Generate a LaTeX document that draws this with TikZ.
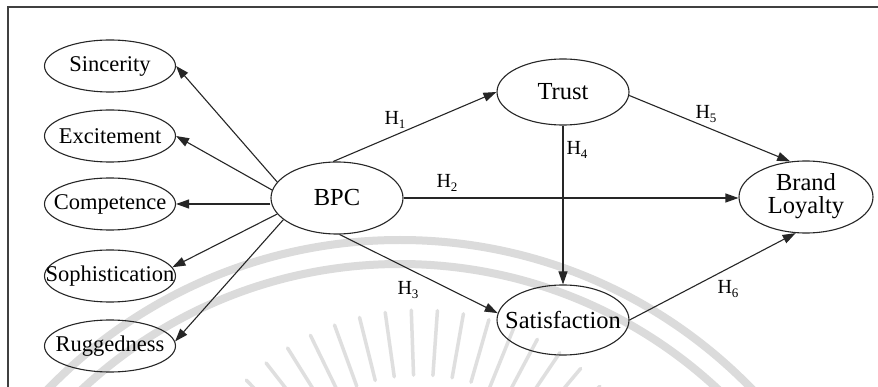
\documentclass[tikz,border=0pt]{standalone}
\usepackage{fontspec}
\setmainfont{Liberation Serif}
\usetikzlibrary{arrows.meta,shapes.geometric}
\newcommand\hyp[1]{H\raisebox{-0.35ex}{\fontsize{13}{13}\selectfont #1}}
% text is centred in a zero-width box so the ellipse keeps its fixed size
\newcommand\lbl[1]{\makebox[0pt]{#1}}
\tikzset{
  construct/.style={draw=black!85, line width=1.1pt, ellipse, inner sep=0pt,
    font=\fontsize{22.5}{25}\selectfont},
  dim/.style={construct, minimum width=131pt, minimum height=52pt},
  core/.style={construct, minimum width=132pt, minimum height=70pt,
    font=\fontsize{24.5}{27}\selectfont},
  path/.style={draw=black!85, line width=1.1pt, -{Triangle[length=13pt,width=9pt]}},
  hlabel/.style={font=\fontsize{20}{22}\selectfont, inner sep=0pt},
  mark band/.style={draw=gray!28, line width=8pt},
  mark ray/.style={draw=gray!25, line width=3.5pt, line cap=round}
}
\begin{document}
\begin{tikzpicture}[x=1pt, y=-1pt]
\useasboundingbox (0,0) rectangle (878,387);
\fill[white] (0,0) rectangle (878,387);

% faint seal in the background
\begin{scope}
  \clip (8,7) rectangle (878,387);
  \draw[mark band] (400,730) circle[radius=490];
  \draw[mark band] (400,730) circle[radius=466];
  \foreach \a in {44,50,...,136}
    \draw[mark ray] (420,560) ++(-\a:185) -- ++(-\a:65);
\end{scope}

% frame
\draw[black!75, line width=1.3pt] (8,387) -- (8,7) -- (878,7);

% brand personality dimensions
\node[dim] (sinc) at (110,66)  {\lbl{Sincerity}};
\node[dim] (exc)  at (110,136) {\lbl{Excitement}};
\node[dim] (comp) at (110,204) {\lbl{Competence}};
\node[dim] (soph) at (110,276) {\lbl{Sophistication}};
\node[dim] (rugg) at (110,346) {\lbl{Ruggedness}};

% structural model
\node[core, minimum height=72pt] (bpc) at (337,198) {\lbl{BPC}};
\node[core, minimum height=66pt] (trust) at (563,92) {\lbl{Trust}};
\node[core] (sat) at (563,320) {\lbl{Satisfaction}};
\node[core, minimum width=134pt, minimum height=72pt] (bl) at (806,197)
      {\lbl{\begin{tabular}{@{}c@{}}Brand\\[-4pt]Loyalty\end{tabular}}};

% BPC to its dimensions
\draw[path] (bpc.165) -- (sinc.east);
\draw[path] (bpc.173) -- (exc.east);
\draw[path] (bpc.west |- comp.east) -- (comp.east);
\draw[path] (bpc.195) -- (soph.8);
\draw[path] (bpc.202) -- (rugg.4);

% hypothesised paths
\draw[path] (bpc.96) -- (trust.west);
\draw[path] (bpc.east) -- (bpc.east -| bl.west);
\draw[path] (bpc.-86) -- (sat.174);
\draw[path] (trust.south) -- (sat.north);
\draw[path] (trust.-3) -- (bl.114);
\draw[path] (sat.east) -- (bl.-106);

% hypothesis labels
\node[hlabel] (h1) at (395,120) {\hyp{1}};
\node[hlabel] (h2) at (447,183) {\hyp{2}};
\node[hlabel] (h3) at (408,290) {\hyp{3}};
\node[hlabel] (h4) at (577,150) {\hyp{4}};
\node[hlabel] (h5) at (706,114) {\hyp{5}};
\node[hlabel] (h6) at (728,289) {\hyp{6}};
\end{tikzpicture}
\end{document}
